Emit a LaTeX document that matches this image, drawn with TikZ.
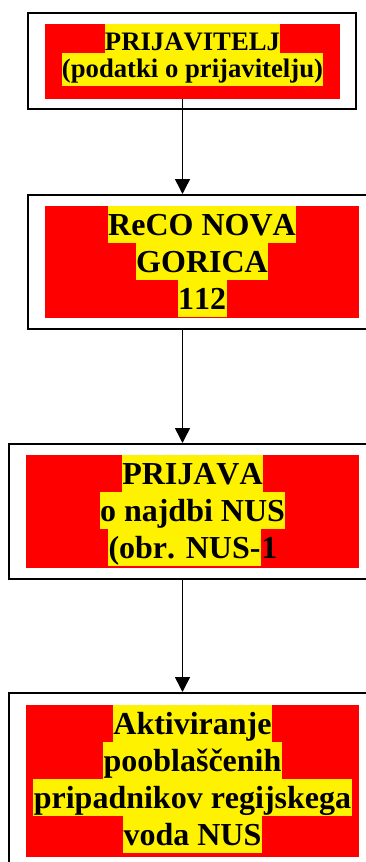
\documentclass[tikz,border=0pt]{standalone}
\usepackage{fontspec}
\setmainfont[Kerning=Off]{Liberation Serif}
\usetikzlibrary{arrows.meta}
\begin{document}
\begin{tikzpicture}[x=1pt,y=-1pt,
  outer/.style={draw=black, line width=2pt, fill=white, inner sep=0pt},
  redbox/.style={fill=red, inner sep=0pt},
  yl/.style={fill=yellow, inner xsep=0.5pt, inner ysep=0pt, anchor=north,
    font=\bfseries\fontsize{32}{37}\selectfont, text height=29.5pt, text depth=7.5pt},
  ylsmall/.style={fill=yellow, inner xsep=0.3pt, inner ysep=0pt, anchor=north,
    font=\bfseries\fontsize{26.7}{31}\selectfont},
  plain/.style={inner xsep=0.5pt, inner ysep=0pt,
    font=\bfseries\fontsize{32}{37}\selectfont, text height=29.5pt, text depth=7.5pt},
  arr/.style={line width=1.5pt, -{Triangle[width=15pt,length=15pt]}}]
\useasboundingbox (0,0) rectangle (366,862);
\clip (0,0) rectangle (366,862);
\coordinate (ax) at (182.5,0);
% box 1
\node[outer, minimum width=328pt, minimum height=96pt] (o1) at (192,61) {};
\node[redbox, minimum width=295pt, minimum height=75pt] (r1) at (192.5,61.5) {};
\node[ylsmall, text height=26pt, text depth=3pt] (t11) at (192.5,24) {PRIJAVITELJ};
\node[ylsmall, text height=24.3pt, text depth=8.7pt] (t12) at (192.5,53) {(podatki o prijavitelju)};
% box 2
\node[outer, minimum width=352pt, minimum height=134pt] (o2) at (204,262) {};
\node[redbox, minimum width=314pt, minimum height=112pt] (r2) at (202,262) {};
\node[yl] (t21) at (202,206) {ReCO NOVA};
\node[yl] (t22) at (202,243) {GORICA};
\node[yl] (t23) at (202,280) {112};
% box 3
\node[outer, minimum width=371pt, minimum height=135pt] (o3) at (194.5,511.5) {};
\node[redbox, minimum width=333pt, minimum height=113pt] (r3) at (192.5,511.5) {};
\node[yl] (t31) at (192.5,455) {PRIJAVA};
\node[yl] (t32) at (192.5,492) {o najdbi NUS};
\node[yl] (t33) at (184.5,529) {(obr. NUS-};
\node[plain, anchor=north west, inner xsep=0pt] (t34) at (t33.north east) {1};
% box 4
\node[outer, minimum width=371pt, minimum height=187pt] (o4) at (194.5,786.5) {};
\node[redbox, minimum width=333pt, minimum height=152pt] (r4) at (192.5,781) {};
\node[yl] (t41) at (192.5,705) {Aktiviranje};
\node[yl] (t42) at (192.5,742) {pooblaščenih};
\node[yl] (t43) at (192.5,779) {pripadnikov regijskega};
\node[yl] (t44) at (192.5,816) {voda NUS};
% connectors
\draw[arr] (r1.south -| ax) -- (o2.north -| ax);
\draw[arr] (o2.south -| ax) -- (o3.north -| ax);
\draw[arr] (o3.south -| ax) -- (o4.north -| ax);
\end{tikzpicture}
\end{document}
